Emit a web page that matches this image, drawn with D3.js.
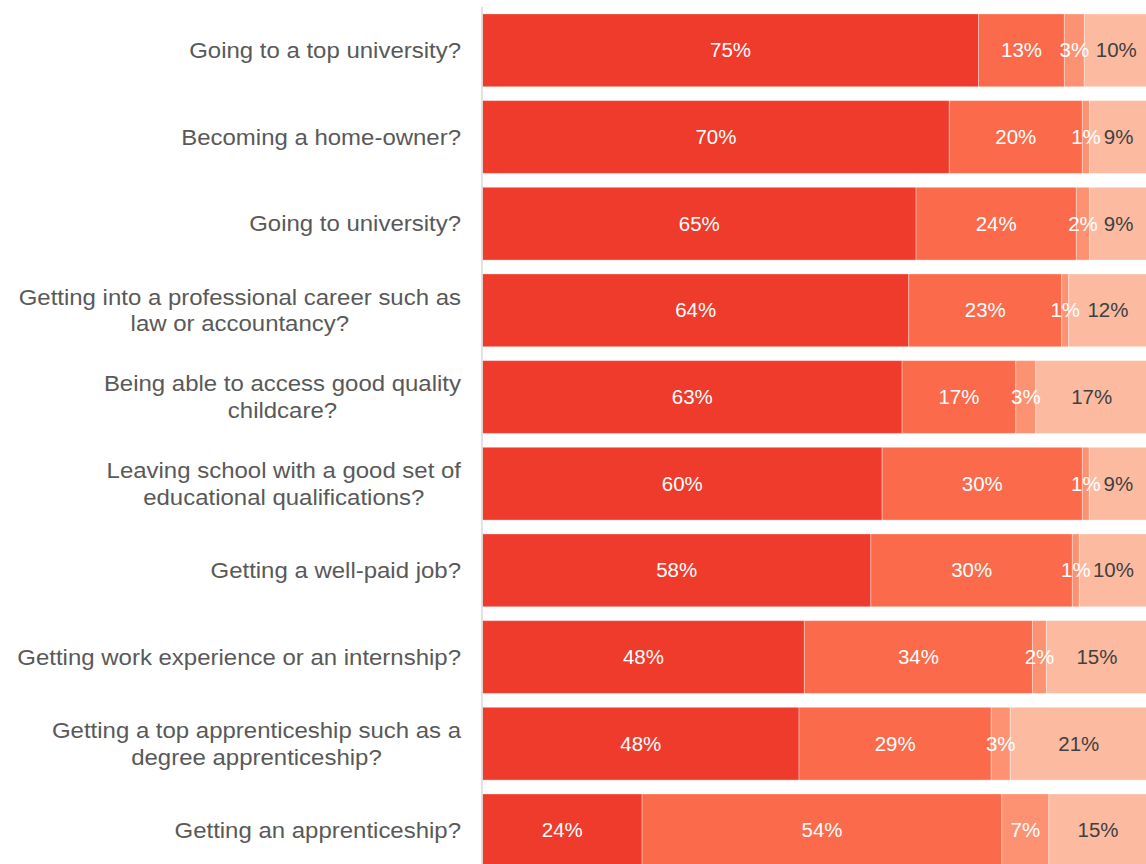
<!DOCTYPE html>
<html>
<head>
<meta charset="utf-8">
<script src="https://cdn.jsdelivr.net/npm/d3@7"></script>
<style>
  html, body { margin: 0; padding: 0; background: #fff; }
  svg { display: block; font-family: "Liberation Sans", Arial, sans-serif; }
</style>
</head>
<body>
<div id="chart"></div>
<script>
// categories, top to bottom (each entry is the lines of the label)
var categories = [
	["Going to a top university?"],
	["Becoming a home-owner?"],
	["Going to university?"],
	["Getting into a professional career such as", "law or accountancy?"],
	["Being able to access good quality", "childcare?"],
	["Leaving school with a good set of", "educational qualifications?"],
	["Getting a well-paid job?"],
	["Getting work experience or an internship?"],
	["Getting a top apprenticeship such as a", "degree apprenticeship?"],
	["Getting an apprenticeship?"]
];

// series values, in %
var series1 = [74.6, 70.2, 65.2, 64.1, 63.1, 60.1, 58.4, 48.4, 47.6, 24.0];
var series2 = [12.9, 20.0, 24.1, 23.0, 17.1, 30.1, 30.3, 34.3, 28.9, 54.1];
var series3 = [3.0, 1.1, 2.0, 1.05, 3.0, 1.05, 1.05, 2.1, 2.86, 7.07];
var series4 = [9.6, 8.7, 8.7, 11.8, 16.8, 8.75, 10.25, 15.2, 20.6, 14.8];

var colors = ["#ef3b2c", "#fb6a4a", "#fc9272", "#fcbba1"];
var labelColors = ["#fff", "#fff", "#fff", "#404040"];

function drawChart(el) {
	var width = 1146, height = 864;

	var svg = d3.select(el).append("svg")
		.attr("width", width)
		.attr("height", height);

	var allSeries = [series1, series2, series3, series4];
	var rows = categories.map(function (c, i) {
		var row = { i: i };
		allSeries.forEach(function (s, k) { row["s" + k] = s[i]; });
		return row;
	});
	var keys = ["s0", "s1", "s2", "s3"];
	var stacked = d3.stack().keys(keys)(rows);

	var x = d3.scaleLinear().domain([0, 100]).range([482.5, 1147.5]);
	var y = d3.scaleBand()
		.domain(d3.range(categories.length))
		.range([7, 873.7])
		.paddingInner(0.16)
		.paddingOuter(0.08);

	var layers = svg.append("g").selectAll("g")
		.data(stacked)
		.enter().append("g")
		.attr("fill", function (d, k) { return colors[k]; });

	layers.selectAll("rect")
		.data(function (d) { return d; })
		.enter().append("rect")
		.attr("x", function (d) { return x(d[0]); })
		.attr("y", function (d) { return y(d.data.i); })
		.attr("width", function (d) { return x(d[1]) - x(d[0]); })
		.attr("height", y.bandwidth())
		.attr("stroke", "#fff")
		.attr("stroke-opacity", 0.35)
		.attr("stroke-width", 1);

	// value labels, centred in each segment, drawn above all the bars
	var segs = [];
	stacked.forEach(function (layer, k) {
		layer.forEach(function (d) { segs.push({ k: k, i: d.data.i, x0: d[0], x1: d[1] }); });
	});
	svg.append("g").selectAll("g")
		.data(segs)
		.enter().append("g")
		.attr("transform", function (d) {
			return "translate(" + (x(d.x0) + x(d.x1)) / 2 + "," + (y(d.i) + y.bandwidth() / 2) + ") scale(1.05,1)";
		})
		.append("text")
		.attr("dy", "0.35em")
		.attr("text-anchor", "middle")
		.attr("font-size", 19.5)
		.attr("fill", function (d) { return labelColors[d.k]; })
		.text(function (d) { return Math.round(d.x1 - d.x0) + "%"; });

	// category axis line
	svg.append("line")
		.attr("x1", 482).attr("x2", 482)
		.attr("y1", 7).attr("y2", height)
		.attr("stroke", "#d9d9d9")
		.attr("stroke-width", 1.5);

	// category labels: multi-line ones are centred on their own block, block right aligned
	var labelRight = 461, lineH = 26.5, sx = 1.09;
	var cats = svg.append("g").attr("font-size", 22).attr("fill", "#595959");
	categories.forEach(function (lines, i) {
		var cy = y(i) + y.bandwidth() / 2;
		var t = cats.append("g")
			.attr("transform", "translate(" + labelRight + "," + cy + ") scale(" + sx + ",1)")
			.append("text");
		lines.forEach(function (line, j) {
			t.append("tspan")
				.attr("y", (j - (lines.length - 1) / 2) * lineH)
				.attr("dy", "0.35em")
				.text(line);
		});
		if (lines.length == 1) {
			t.attr("text-anchor", "end").select("tspan").attr("x", 0);
		} else {
			var w = d3.max(t.selectAll("tspan").nodes(), function (n) { return n.getComputedTextLength(); });
			t.attr("text-anchor", "middle");
			t.selectAll("tspan").attr("x", -w / 2);
		}
	});
}

drawChart("#chart");
</script>
</body>
</html>
